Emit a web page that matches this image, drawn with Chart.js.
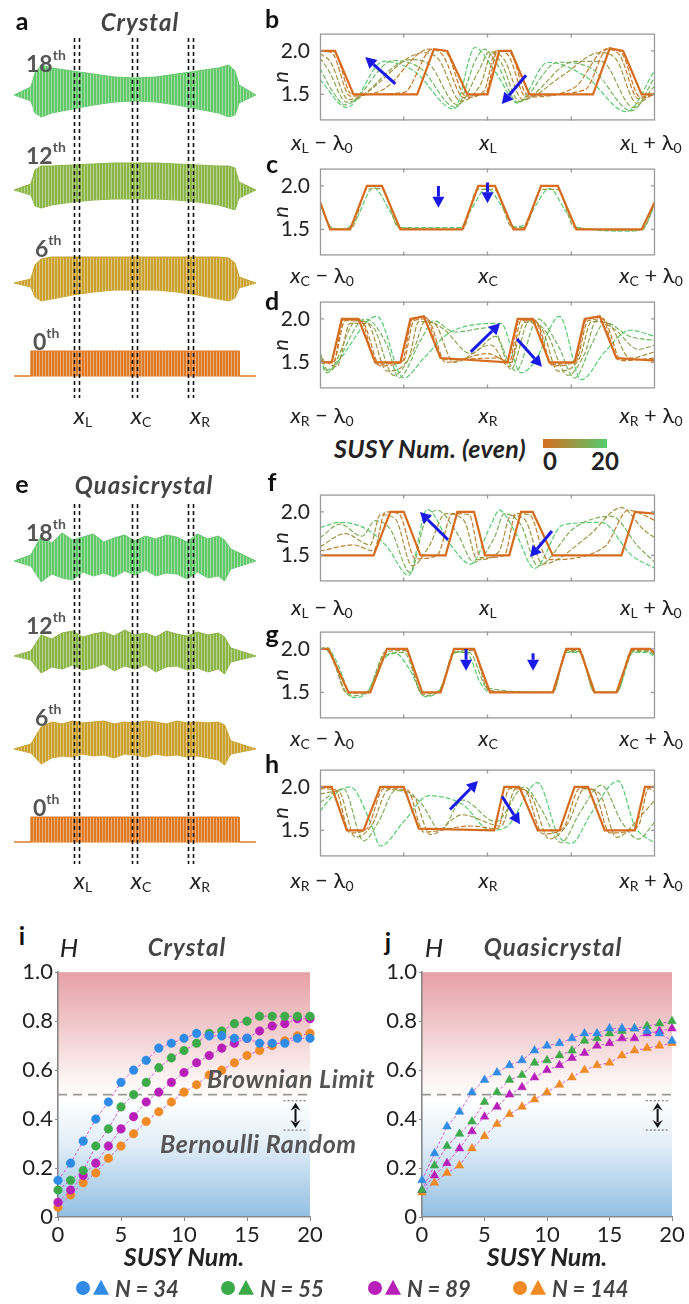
<!DOCTYPE html>
<html>
<head>
<meta charset="utf-8">
<title>SUSY crystal / quasicrystal</title>
<script src="https://cdn.jsdelivr.net/npm/chart.js"></script>
<style>
  body { margin:0; background:#fff; font-family: Lato, "Open Sans", sans-serif; }
  #fig { position:relative; width:689px; height:1304px; overflow:hidden; }
  canvas { position:absolute; }
  .t { position:absolute; white-space:nowrap; line-height:1; transform:translate(-50%,-50%); color:#222; }
  .l { transform:translate(0,-50%); }
  .lt { font-weight:bold; font-size:25px; color:#111; }
  .ttl { font-weight:bold; font-style:italic; font-size:24px; letter-spacing:1px; color:#444; }
  .ord { font-weight:bold; font-size:23px; color:#555; }
  .ord sup { font-size:14px; position:relative; top:-3px; }
  .xl { font-size:22px; color:#222; }
  .xl i { font-style:italic; }
  .xl sub { font-size:14px; position:relative; top:3px; vertical-align:baseline; }
  .note { font-weight:bold; font-style:italic; font-size:25px; letter-spacing:0.6px; color:#555; }
  .leg { font-weight:bold; font-style:italic; font-size:22px; color:#444; }
  .dot { position:absolute; width:14px; height:14px; border-radius:50%; transform:translate(-50%,-50%); }
  .tri { position:absolute; width:0; height:0; border-left:8px solid transparent; border-right:8px solid transparent; transform:translate(-50%,-55%); }
</style>
</head>
<body>
<div id="fig">
  <canvas id="wa" width="250" height="380" style="left:10px;top:30px"></canvas>
  <canvas id="we" width="250" height="380" style="left:10px;top:496px"></canvas>
  <canvas id="nb" width="424" height="116" style="left:265px;top:19px"></canvas>
  <canvas id="nc" width="424" height="116" style="left:265px;top:154px"></canvas>
  <canvas id="nd" width="424" height="116" style="left:265px;top:287px"></canvas>
  <canvas id="nf" width="424" height="116" style="left:265px;top:480px"></canvas>
  <canvas id="ng" width="424" height="116" style="left:265px;top:617px"></canvas>
  <canvas id="nh" width="424" height="116" style="left:265px;top:755px"></canvas>
  <canvas id="hi" width="330" height="320" style="left:0px;top:957px"></canvas>
  <canvas id="hj" width="325" height="320" style="left:364px;top:957px"></canvas>

  <div class="t lt" style="left:22px;top:20px">a</div>
  <div class="t ttl" style="left:140px;top:22px">Crystal</div>
  <div class="t lt" style="left:272px;top:18px">b</div>
  <div class="t lt" style="left:272px;top:163px">c</div>
  <div class="t lt" style="left:272px;top:300px">d</div>
  <div class="t lt" style="left:22px;top:483px">e</div>
  <div class="t ttl" style="left:144px;top:485px">Quasicrystal</div>
  <div class="t lt" style="left:272px;top:481px">f</div>
  <div class="t lt" style="left:272px;top:633px">g</div>
  <div class="t lt" style="left:272px;top:763px">h</div>
  <div class="t lt" style="left:22px;top:935px">i</div>
  <div class="t lt" style="left:388px;top:941px">j</div>

  <div class="t l ord" style="left:26px;top:63px">18<sup>th</sup></div>
  <div class="t l ord" style="left:26px;top:155px">12<sup>th</sup></div>
  <div class="t l ord" style="left:35px;top:248px">6<sup>th</sup></div>
  <div class="t l ord" style="left:33px;top:341px">0<sup>th</sup></div>
  <div class="t l ord" style="left:26px;top:532px">18<sup>th</sup></div>
  <div class="t l ord" style="left:26px;top:625px">12<sup>th</sup></div>
  <div class="t l ord" style="left:35px;top:717px">6<sup>th</sup></div>
  <div class="t l ord" style="left:33px;top:807px">0<sup>th</sup></div>

  <div class="t xl" style="left:83px;top:415px;font-size:24px"><i>x</i><sub>L</sub></div>
  <div class="t xl" style="left:141px;top:415px;font-size:24px"><i>x</i><sub>C</sub></div>
  <div class="t xl" style="left:200px;top:415px;font-size:24px"><i>x</i><sub>R</sub></div>
  <div class="t xl" style="left:83px;top:880px;font-size:24px"><i>x</i><sub>L</sub></div>
  <div class="t xl" style="left:141px;top:880px;font-size:24px"><i>x</i><sub>C</sub></div>
  <div class="t xl" style="left:200px;top:880px;font-size:24px"><i>x</i><sub>R</sub></div>

  <div id="nlabels"></div>

  <div class="t ttl" style="left:430px;top:448px;font-size:25px;letter-spacing:0.3px;color:#222">SUSY Num. (even)</div>
  <div style="position:absolute;left:543px;top:439px;width:64px;height:9px;background:linear-gradient(to right,#d66c1e,#56cc70)"></div>
  <div class="t xl" style="left:550px;top:461px;font-weight:bold;font-size:24px">0</div>
  <div class="t xl" style="left:605px;top:461px;font-weight:bold;font-size:24px">20</div>

  <div class="t" style="left:69px;top:947px;font-style:italic;font-size:26px;color:#222">H</div>
  <div class="t ttl" style="left:187px;top:947px">Crystal</div>
  <div class="t" style="left:434px;top:947px;font-style:italic;font-size:26px;color:#222">H</div>
  <div class="t ttl" style="left:553px;top:947px">Quasicrystal</div>
  <div class="t l note" style="left:207px;top:1078px">Brownian Limit</div>
  <div class="t l note" style="left:160px;top:1143px">Bernoulli Random</div>

  <div id="legend"></div>
</div>

<script>
// ---------------- data ----------------
// panel a / e : envelopes of the field, px above (+) / below (-) the rest line
const crysX = [0, 0.02, 0.05, 0.1, 0.2, 0.3, 0.4, 0.5, 0.6, 0.7, 0.8, 0.9, 0.95, 0.98, 1];
const crys18Up = [8, 22, 30, 27, 24, 21, 18, 17, 18, 21, 24, 27, 30, 24, 10];
const crys18Dn = [-6, -18, -22, -18, -14, -10, -7, -6, -7, -10, -14, -18, -22, -20, -8];
const crys12Up = [6, 20, 24, 24, 25, 26, 27, 27, 27, 26, 25, 24, 24, 22, 8];
const crys12Dn = [-5, -16, -18, -15, -12, -10, -9, -9, -9, -10, -12, -15, -18, -20, -8];
const crys6Up = [4, 18, 24, 26, 26, 26, 26, 26, 26, 26, 26, 26, 25, 20, 6];
const crys6Dn = [-4, -14, -18, -16, -12, -9, -7, -7, -7, -9, -12, -16, -18, -15, -5];

const quasiX = [0, 0.05, 0.1, 0.15, 0.2, 0.25, 0.3, 0.35, 0.4, 0.45, 0.5, 0.55, 0.6, 0.65, 0.7, 0.75, 0.8, 0.85, 0.9, 0.93, 0.96];
const quasi18Up = [6, 25, 18, 28, 21, 24, 27, 19, 23, 26, 20, 25, 22, 26, 24, 19, 27, 22, 25, 21, 12];
const quasi18Dn = [-5, -21, -13, -17, -19, -11, -15, -12, -16, -10, -14, -9, -15, -12, -13, -18, -11, -17, -15, -20, -8];
const quasi12Up = [5, 21, 17, 23, 25, 19, 22, 24, 20, 26, 21, 23, 19, 25, 22, 20, 24, 21, 23, 19, 8];
const quasi12Dn = [-4, -17, -11, -13, -9, -14, -12, -8, -15, -10, -13, -9, -16, -11, -10, -14, -12, -16, -13, -18, -6];
const quasi6Up = [5, 22, 27, 25, 28, 26, 27, 28, 25, 27, 26, 28, 27, 25, 28, 26, 27, 26, 27, 24, 8];
const quasi6Dn = [-4, -15, -9, -7, -8, -5, -7, -6, -9, -5, -6, -8, -5, -7, -6, -8, -7, -9, -11, -16, -5];

const zeroX = [0, 0, 1, 1];
const zeroUp = [0, 25, 25, 0];
const zeroDn = [0, 0, 0, 0];

const guideX = [0.207, 0.231, 0.486, 0.51, 0.754, 0.778];   // x_L, x_C, x_R double dashes

// panels b-d, f-h : refractive index n over x - lambda0 .. x + lambda0  ([x, n] pairs)
const bSteps = [0, 2, 4, 8, 12, 16, 20];
const bCurves = [
  [[-1,2.0],[-0.91,2.0],[-0.8,1.5],[-0.42,1.5],[-0.32,2.02],[-0.24,2.0],[-0.12,1.5],[0,1.5],[0.07,2.0],[0.14,2.0],[0.25,1.5],[0.63,1.5],[0.73,2.03],[0.81,2.0],[0.92,1.5],[1,1.5]],
  [[-1,2.0],[-0.92,2.0],[-0.81,1.5],[-0.5,1.52],[-0.33,2.02],[-0.25,1.99],[-0.13,1.48],[-0.01,1.52],[0.06,2.0],[0.13,1.99],[0.24,1.49],[0.58,1.55],[0.72,2.03],[0.8,1.98],[0.91,1.47],[1,1.5]],
  [[-1,2.0],[-0.93,1.98],[-0.82,1.48],[-0.62,1.56],[-0.35,2.02],[-0.27,1.96],[-0.14,1.46],[-0.02,1.54],[0.05,2.0],[0.12,1.96],[0.23,1.47],[0.52,1.58],[0.71,2.02],[0.79,1.95],[0.9,1.45],[1,1.5]],
  [[-1,1.97],[-0.94,1.88],[-0.83,1.44],[-0.38,1.98],[-0.29,1.9],[-0.16,1.42],[-0.04,1.62],[0.03,1.99],[0.1,1.9],[0.21,1.44],[0.45,1.72],[0.67,1.98],[0.77,1.9],[0.89,1.4],[1,1.52]],
  [[-1,1.92],[-0.95,1.78],[-0.84,1.41],[-0.46,1.9],[-0.35,1.85],[-0.18,1.38],[-0.05,1.78],[0.01,1.99],[0.08,1.87],[0.19,1.42],[0.52,1.88],[0.68,1.88],[0.87,1.35],[1,1.6]],
  [[-1,1.8],[-0.93,1.55],[-0.85,1.38],[-0.56,1.89],[-0.4,1.8],[-0.19,1.35],[-0.07,1.9],[-0.02,2.02],[0.06,1.84],[0.18,1.41],[0.42,1.87],[0.62,1.8],[0.86,1.31],[1,1.7]],
  [[-1,1.67],[-0.84,1.35],[-0.62,1.88],[-0.44,1.77],[-0.2,1.33],[-0.075,2.04],[0.05,1.75],[0.18,1.4],[0.36,1.87],[0.59,1.7],[0.83,1.3],[1,1.78]]
];
const cSteps = [0, 10, 20];
const cCurves = [
  [[-1,1.82],[-0.94,1.5],[-0.82,1.5],[-0.72,2.0],[-0.63,2.0],[-0.52,1.5],[-0.15,1.5],[-0.055,2.0],[0.045,2.0],[0.155,1.5],[0.22,1.5],[0.32,2.0],[0.42,2.0],[0.53,1.5],[0.92,1.5],[1,1.82]],
  [[-1,1.8],[-0.95,1.56],[-0.9,1.5],[-0.81,1.52],[-0.72,1.96],[-0.63,1.97],[-0.53,1.52],[-0.15,1.5],[-0.06,1.96],[0.04,1.96],[0.15,1.52],[0.22,1.52],[0.32,1.96],[0.42,1.96],[0.52,1.52],[0.92,1.49],[1,1.8]],
  [[-1,1.78],[-0.93,1.52],[-0.86,1.5],[-0.79,1.6],[-0.68,1.98],[-0.58,1.7],[-0.52,1.52],[-0.16,1.52],[-0.1,1.72],[-0.005,1.97],[0.1,1.72],[0.16,1.53],[0.22,1.55],[0.28,1.75],[0.37,1.97],[0.47,1.7],[0.54,1.52],[0.85,1.48],[0.93,1.52],[1,1.78]]
];
const dSteps = [0, 2, 4, 8, 12, 16, 20];
const dCurves = [
  [[-1,1.5],[-0.93,1.5],[-0.87,2.0],[-0.77,2.0],[-0.67,1.5],[-0.52,1.5],[-0.46,2.0],[-0.38,2.03],[-0.28,1.55],[0.12,1.5],[0.18,2.0],[0.27,2.0],[0.37,1.5],[0.52,1.5],[0.58,2.0],[0.67,2.03],[0.77,1.55],[1,1.52]],
  [[-1,1.51],[-0.92,1.5],[-0.86,1.99],[-0.76,1.99],[-0.66,1.48],[-0.51,1.51],[-0.45,1.99],[-0.37,2.02],[-0.27,1.53],[0.06,1.55],[0.13,1.5],[0.19,1.99],[0.28,1.99],[0.38,1.48],[0.52,1.51],[0.59,1.99],[0.68,2.02],[0.78,1.53],[1,1.53]],
  [[-1,1.52],[-0.92,1.5],[-0.85,1.98],[-0.75,1.97],[-0.64,1.46],[-0.5,1.52],[-0.44,1.98],[-0.36,2.0],[-0.25,1.5],[0,1.6],[0.14,1.5],[0.2,1.98],[0.29,1.97],[0.39,1.46],[0.53,1.52],[0.6,1.98],[0.69,2.0],[0.8,1.52],[1,1.55]],
  [[-1,1.56],[-0.9,1.45],[-0.82,1.95],[-0.72,1.95],[-0.6,1.4],[-0.47,1.55],[-0.41,1.97],[-0.32,1.95],[-0.2,1.5],[0.02,1.7],[0.13,1.45],[0.22,1.96],[0.32,1.9],[0.42,1.4],[0.55,1.55],[0.62,1.97],[0.72,1.95],[0.85,1.55],[1,1.62]],
  [[-1,1.6],[-0.95,1.4],[-0.78,1.98],[-0.68,1.9],[-0.56,1.35],[-0.44,1.65],[-0.37,1.98],[-0.26,1.88],[-0.1,1.6],[0.05,1.8],[0.14,1.42],[0.25,1.98],[0.35,1.85],[0.48,1.35],[0.58,1.6],[0.65,1.98],[0.76,1.88],[0.9,1.65],[1,1.7]],
  [[-1,1.62],[-0.96,1.38],[-0.73,2.0],[-0.6,1.7],[-0.53,1.32],[-0.4,1.75],[-0.32,1.98],[-0.2,1.85],[0.02,1.9],[0.17,1.4],[0.3,2.0],[0.42,1.7],[0.52,1.32],[0.62,1.7],[0.7,1.96],[0.85,1.8],[1,1.75]],
  [[-1,1.62],[-0.97,1.4],[-0.9,1.5],[-0.66,2.03],[-0.5,1.32],[-0.38,1.55],[-0.22,1.85],[0.08,1.95],[0.2,1.38],[0.28,1.5],[0.43,2.03],[0.56,1.3],[0.7,1.62],[0.85,1.87],[1,1.8]]
];
const fSteps = [0, 4, 8, 14, 20];
const fCurves = [
  [[-1,1.5],[-0.68,1.5],[-0.58,2.0],[-0.5,2.0],[-0.4,1.5],[-0.25,1.5],[-0.18,2.0],[-0.08,2.0],[-0.015,1.5],[0.13,1.5],[0.2,2.0],[0.27,2.0],[0.39,1.5],[0.8,1.5],[0.88,2.0],[1,1.98]],
  [[-1,1.55],[-0.8,1.62],[-0.68,1.55],[-0.61,2.0],[-0.53,1.98],[-0.43,1.46],[-0.3,1.5],[-0.21,1.98],[-0.11,1.97],[-0.04,1.47],[0.1,1.5],[0.17,1.98],[0.25,1.97],[0.36,1.45],[0.7,1.6],[0.84,2.02],[0.95,1.95],[1,1.9]],
  [[-1,1.6],[-0.85,1.75],[-0.7,1.62],[-0.64,1.97],[-0.55,1.92],[-0.45,1.38],[-0.35,1.6],[-0.25,1.98],[-0.14,1.9],[-0.06,1.45],[0.07,1.55],[0.14,1.96],[0.22,1.92],[0.33,1.4],[0.6,1.72],[0.8,2.05],[0.93,1.8],[1,1.7]],
  [[-1,1.7],[-0.88,1.86],[-0.75,1.72],[-0.67,1.9],[-0.58,1.8],[-0.46,1.3],[-0.38,1.85],[-0.3,2.02],[-0.18,1.75],[-0.08,1.42],[0.04,1.7],[0.1,1.98],[0.2,1.85],[0.3,1.38],[0.52,1.82],[0.74,1.95],[0.9,1.6],[1,1.42]],
  [[-1,1.82],[-0.88,1.88],[-0.72,1.8],[-0.6,1.6],[-0.47,1.27],[-0.36,2.03],[-0.22,1.62],[-0.1,1.4],[0.02,1.85],[0.07,2.02],[0.17,1.75],[0.28,1.35],[0.45,1.85],[0.68,1.88],[0.86,1.5],[1,1.35]]
];
const gSteps = [0, 8, 14, 20];
const gCurves = [
  [[-1,2.0],[-0.95,2.0],[-0.83,1.5],[-0.7,1.5],[-0.6,2.0],[-0.48,2.0],[-0.39,1.5],[-0.28,1.5],[-0.2,2.0],[-0.08,2.0],[0.015,1.5],[0.39,1.5],[0.47,2.0],[0.55,2.0],[0.64,1.5],[0.77,1.5],[0.86,2.0],[0.97,2.0],[1,1.95]],
  [[-1,2.0],[-0.95,1.99],[-0.84,1.49],[-0.71,1.5],[-0.61,1.97],[-0.49,1.98],[-0.39,1.48],[-0.28,1.52],[-0.2,1.97],[-0.09,1.98],[0.01,1.52],[0.39,1.5],[0.47,1.98],[0.55,1.98],[0.64,1.5],[0.77,1.5],[0.86,1.98],[0.97,1.98],[1,1.93]],
  [[-1,2.01],[-0.95,1.97],[-0.82,1.46],[-0.72,1.5],[-0.62,1.92],[-0.5,1.96],[-0.38,1.46],[-0.28,1.54],[-0.2,1.96],[-0.11,1.96],[0.0,1.55],[0.39,1.5],[0.47,1.97],[0.55,1.97],[0.64,1.5],[0.77,1.5],[0.86,1.97],[0.97,1.97],[1,1.92]],
  [[-1,2.0],[-0.96,2.02],[-0.9,1.85],[-0.8,1.44],[-0.72,1.5],[-0.62,1.88],[-0.55,1.95],[-0.47,1.78],[-0.37,1.45],[-0.28,1.55],[-0.2,1.95],[-0.13,1.97],[-0.04,1.6],[0.02,1.5],[0.39,1.5],[0.47,1.96],[0.55,1.96],[0.64,1.5],[0.77,1.5],[0.87,1.96],[0.96,1.96],[1,1.9]]
];
const hSteps = [0, 4, 8, 14, 20];
const hCurves = [
  [[-1,2.0],[-0.93,2.0],[-0.84,1.5],[-0.74,1.5],[-0.64,2.0],[-0.5,2.0],[-0.41,1.52],[0.04,1.5],[0.1,2.0],[0.19,2.0],[0.3,1.5],[0.43,1.5],[0.52,2.0],[0.6,2.0],[0.7,1.5],[0.88,1.5],[0.94,2.0],[1,2.0]],
  [[-1,1.98],[-0.91,1.97],[-0.82,1.47],[-0.72,1.52],[-0.62,1.98],[-0.48,1.97],[-0.38,1.48],[-0.1,1.55],[0.06,1.52],[0.13,1.98],[0.22,1.97],[0.33,1.46],[0.45,1.52],[0.55,1.98],[0.63,1.97],[0.73,1.47],[0.9,1.55],[0.96,1.98],[1,1.95]],
  [[-1,1.92],[-0.89,1.95],[-0.79,1.42],[-0.69,1.56],[-0.59,1.97],[-0.45,1.92],[-0.34,1.45],[-0.15,1.68],[0.08,1.55],[0.17,1.98],[0.26,1.9],[0.37,1.4],[0.48,1.58],[0.58,1.98],[0.67,1.92],[0.77,1.42],[0.93,1.7],[1,1.85]],
  [[-1,1.82],[-0.86,1.98],[-0.74,1.38],[-0.65,1.6],[-0.55,1.96],[-0.4,1.82],[-0.28,1.5],[-0.15,1.85],[0.05,1.6],[0.22,2.0],[0.32,1.75],[0.44,1.36],[0.55,1.7],[0.68,2.02],[0.8,1.6],[0.9,1.4],[1,1.6]],
  [[-1,1.72],[-0.92,1.9],[-0.82,2.0],[-0.7,1.6],[-0.64,1.32],[-0.5,1.6],[-0.35,1.9],[-0.15,1.8],[0.02,1.5],[0.12,1.55],[0.3,2.05],[0.42,1.45],[0.5,1.35],[0.62,1.7],[0.78,2.07],[0.88,1.55],[1,1.35]]
];
const nTicks = [1.5, 2.0];
const nQuarter = [-0.5, 0, 0.5];

// panels i / j : H versus SUSY number
const susy = [0,1,2,3,4,5,6,7,8,9,10,11,12,13,14,15,16,17,18,19,20];
const crys34  = [0.15,0.22,0.31,0.40,0.47,0.55,0.60,0.64,0.69,0.71,0.73,0.75,0.74,0.74,0.73,0.73,0.71,0.71,0.71,0.73,0.73];
const crys55  = [0.11,0.15,0.19,0.29,0.36,0.45,0.50,0.55,0.61,0.65,0.68,0.71,0.75,0.76,0.79,0.80,0.82,0.82,0.82,0.82,0.82];
const crys89  = [0.06,0.11,0.17,0.22,0.29,0.36,0.41,0.47,0.51,0.55,0.59,0.63,0.66,0.69,0.71,0.73,0.76,0.78,0.79,0.81,0.81];
const crys144 = [0.04,0.09,0.14,0.18,0.24,0.29,0.34,0.39,0.43,0.47,0.51,0.54,0.58,0.60,0.63,0.66,0.68,0.70,0.72,0.74,0.75];
const quasi34  = [0.15,0.26,0.37,0.43,0.51,0.56,0.59,0.62,0.64,0.68,0.70,0.71,0.73,0.75,0.75,0.77,0.77,0.77,0.76,0.75,0.72];
const quasi55  = [0.11,0.21,0.29,0.34,0.39,0.47,0.51,0.56,0.58,0.63,0.64,0.66,0.68,0.72,0.73,0.75,0.76,0.77,0.78,0.79,0.80];
const quasi89  = [0.11,0.17,0.22,0.28,0.35,0.41,0.45,0.50,0.53,0.57,0.60,0.62,0.65,0.67,0.70,0.71,0.73,0.73,0.75,0.76,0.77];
const quasi144 = [0.10,0.14,0.18,0.21,0.28,0.33,0.38,0.42,0.45,0.48,0.51,0.54,0.57,0.60,0.62,0.63,0.66,0.68,0.69,0.70,0.71];
const sizes = ['34', '55', '89', '144'];
const brownLimit = 0.5;
const bernoulliBand = [0.355, 0.475];

// ---------------- styling ----------------
const rowColor = ['#e07a22', '#c9a12c', '#8bb547', '#62c96b'];   // 0th 6th 12th 18th
const rowBase = [0, 93, 186, 281];
const nColor = ['#2f8be6', '#3daa4a', '#b81fb8', '#f08a24'];
const linkColor = '#d65ad6';
const FONT = 'Lato, "Open Sans", sans-serif';

function susyColor(s) {
  const a = [214, 108, 30], b = [86, 204, 112], t = s / 20;
  return 'rgb(' + a.map((v, i) => Math.round(v + (b[i] - v) * t)).join(',') + ')';
}

function stripes(col) {
  const p = document.createElement('canvas');
  p.width = 3; p.height = 4;
  const c = p.getContext('2d');
  c.fillStyle = col; c.fillRect(0, 0, 3, 4);
  c.fillStyle = 'rgba(255,255,255,0.4)'; c.fillRect(2, 0, 1, 4);
  return c.createPattern(p, 'repeat');
}

// black double dashed guides through panels a and e
const guidePlugin = {
  id: 'guides',
  afterDatasetsDraw(chart) {
    const {ctx, scales: {x, y}} = chart;
    ctx.save();
    ctx.strokeStyle = '#111'; ctx.lineWidth = 1.6; ctx.setLineDash([4, 3]);
    guideX.forEach(g => {
      const px = Math.round(x.getPixelForValue(g)) + 0.5;
      ctx.beginPath();
      ctx.moveTo(px, y.getPixelForValue(338));
      ctx.lineTo(px, y.getPixelForValue(-22));
      ctx.stroke();
    });
    ctx.restore();
  }
};

function wavePanel(id, rows) {
  const ds = [];
  rows.forEach(r => {
    const base = rowBase[r.row];
    const up = [{x: -0.08, y: base}], dn = [{x: -0.08, y: base}];
    r.x.forEach((v, i) => { up.push({x: v, y: base + r.up[i]}); dn.push({x: v, y: base + r.dn[i]}); });
    up.push({x: 1.08, y: base}); dn.push({x: 1.08, y: base});
    const col = rowColor[r.row];
    ds.push({data: up, borderColor: col, borderWidth: 1, pointRadius: 0, fill: '+1', backgroundColor: stripes(col)});
    ds.push({data: dn, borderColor: col, borderWidth: 1, pointRadius: 0, fill: false});
  });
  new Chart(document.getElementById(id), {
    type: 'line',
    data: {datasets: ds},
    options: {
      responsive: false, animation: false,
      layout: {padding: 0},
      plugins: {legend: {display: false}, tooltip: {enabled: false}},
      scales: {
        x: {type: 'linear', min: -0.1, max: 1.1, display: false},
        y: {min: -34, max: 346, display: false}
      }
    },
    plugins: [guidePlugin]
  });
}

wavePanel('wa', [
  {row: 3, x: crysX, up: crys18Up, dn: crys18Dn},
  {row: 2, x: crysX, up: crys12Up, dn: crys12Dn},
  {row: 1, x: crysX, up: crys6Up, dn: crys6Dn},
  {row: 0, x: zeroX, up: zeroUp, dn: zeroDn}
]);
wavePanel('we', [
  {row: 3, x: quasiX, up: quasi18Up, dn: quasi18Dn},
  {row: 2, x: quasiX, up: quasi12Up, dn: quasi12Dn},
  {row: 1, x: quasiX, up: quasi6Up, dn: quasi6Dn},
  {row: 0, x: zeroX, up: zeroUp, dn: zeroDn}
]);

// ---------- n(x) panels ----------
const framePlugin = {
  id: 'frame',
  afterDatasetsDraw(chart) {
    const {ctx, chartArea: a, scales: {x, y}} = chart;
    ctx.save();
    ctx.strokeStyle = '#9a9a9a'; ctx.lineWidth = 1.3;
    ctx.strokeRect(a.left + 0.5, a.top + 0.5, a.right - a.left - 1, a.bottom - a.top - 1);
    ctx.beginPath();
    nQuarter.forEach(v => {
      const px = x.getPixelForValue(v);
      ctx.moveTo(px, a.top); ctx.lineTo(px, a.top + 4);
      ctx.moveTo(px, a.bottom); ctx.lineTo(px, a.bottom - 4);
    });
    nTicks.forEach(v => {
      const py = y.getPixelForValue(v);
      ctx.moveTo(a.left, py); ctx.lineTo(a.left + 4, py);
      ctx.moveTo(a.right, py); ctx.lineTo(a.right - 4, py);
    });
    ctx.stroke();
    ctx.restore();
  }
};

function arrowPlugin(list) {
  return {
    id: 'arrows',
    afterDatasetsDraw(chart) {
      const {ctx, scales: {x, y}} = chart;
      ctx.save();
      ctx.strokeStyle = '#1a1ae6'; ctx.fillStyle = '#1a1ae6'; ctx.lineWidth = 3;
      list.forEach(([x0, y0, x1, y1]) => {
        const ax = x.getPixelForValue(x0), ay = y.getPixelForValue(y0);
        const bx = x.getPixelForValue(x1), by = y.getPixelForValue(y1);
        const ang = Math.atan2(by - ay, bx - ax), hl = 11, hw = 6;
        const sx = bx - Math.cos(ang) * hl, sy = by - Math.sin(ang) * hl;
        ctx.beginPath(); ctx.moveTo(ax, ay); ctx.lineTo(sx, sy); ctx.stroke();
        ctx.beginPath();
        ctx.moveTo(bx, by);
        ctx.lineTo(sx + Math.sin(ang) * hw, sy - Math.cos(ang) * hw);
        ctx.lineTo(sx - Math.sin(ang) * hw, sy + Math.cos(ang) * hw);
        ctx.closePath(); ctx.fill();
      });
      ctx.restore();
    }
  };
}

function nPanel(id, steps, curves, arrows) {
  const datasets = curves.map((pts, k) => {
    const s = steps[k];
    return {
      data: pts.map(p => ({x: p[0], y: p[1]})),
      borderColor: susyColor(s),
      borderWidth: s === 0 ? 2.2 : 1.2,
      borderDash: s === 0 ? [] : [5, 2],
      cubicInterpolationMode: s === 0 ? 'default' : 'monotone',
      tension: 0, pointRadius: 0, fill: false
    };
  });
  new Chart(document.getElementById(id), {
    type: 'line',
    data: {datasets},
    options: {
      responsive: false, animation: false,
      layout: {padding: {top: 8, bottom: 8, right: 34, left: 0}},
      plugins: {legend: {display: false}, tooltip: {enabled: false}},
      scales: {
        x: {type: 'linear', min: -1, max: 1, display: false},
        y: {
          min: 1.2, max: 2.2,
          afterFit: s => { s.width = 55; },
          afterBuildTicks: s => { s.ticks = nTicks.map(v => ({value: v})); },
          ticks: {callback: v => v.toFixed(1), font: {size: 21, family: FONT}, color: '#222', padding: 2},
          grid: {display: false}, border: {display: false},
          title: {display: true, text: 'n', font: {size: 22, style: 'italic', family: FONT}, color: '#222', padding: {top: 3, bottom: 0}}
        }
      }
    },
    plugins: [framePlugin, arrowPlugin(arrows)]
  });
}

nPanel('nb', bSteps, bCurves, [[-0.55, 1.62, -0.73, 1.93], [0.23, 1.72, 0.085, 1.39]]);
nPanel('nc', cSteps, cCurves, [[-0.293, 2.0, -0.293, 1.75], [0, 2.04, 0, 1.8]]);
nPanel('nd', dSteps, dCurves, [[-0.1, 1.62, 0.075, 1.95], [0.176, 1.77, 0.325, 1.45]]);
nPanel('nf', fSteps, fCurves, [[-0.236, 1.68, -0.403, 2.0], [0.385, 1.78, 0.254, 1.48]]);
nPanel('ng', gSteps, gCurves, [[-0.128, 2.0, -0.128, 1.75], [0.272, 1.95, 0.272, 1.75]]);
nPanel('nh', hSteps, hCurves, [[-0.224, 1.74, -0.057, 2.07], [0.087, 1.89, 0.194, 1.57]]);

// x labels under the n panels
const nLabelRows = [['L', 142], ['C', 275], ['R', 415], ['L', 607], ['C', 738], ['R', 880]];
const nl = document.getElementById('nlabels');
nLabelRows.forEach(([s, top]) => {
  nl.insertAdjacentHTML('beforeend',
    `<div class="t xl" style="left:322px;top:${top}px"><i>x</i><sub>${s}</sub> − λ<sub>0</sub></div>` +
    `<div class="t xl" style="left:488px;top:${top}px"><i>x</i><sub>${s}</sub></div>` +
    `<div class="t xl" style="left:651px;top:${top}px"><i>x</i><sub>${s}</sub> + λ<sub>0</sub></div>`);
});

// ---------- H panels ----------
const bgPlugin = {
  id: 'bg',
  beforeDraw(chart) {
    const {ctx, chartArea: a} = chart;
    const g = ctx.createLinearGradient(0, a.top, 0, a.bottom);
    g.addColorStop(0, '#e6a0a6');
    g.addColorStop(0.25, '#f2cfd1');
    g.addColorStop(0.45, '#fdf6f6');
    g.addColorStop(0.52, '#ffffff');
    g.addColorStop(0.7, '#e3eef8');
    g.addColorStop(1, '#92bfe2');
    ctx.save(); ctx.fillStyle = g;
    ctx.fillRect(a.left, a.top, a.right - a.left, a.bottom - a.top);
    ctx.restore();
  }
};

const bandArrowPlugin = {
  id: 'bandArrow',
  afterDatasetsDraw(chart) {
    const {ctx, scales: {x, y}} = chart;
    const px = x.getPixelForValue(18.85);
    const y0 = y.getPixelForValue(bernoulliBand[1]) + 2, y1 = y.getPixelForValue(bernoulliBand[0]) - 2;
    ctx.save();
    ctx.strokeStyle = '#111'; ctx.fillStyle = '#111'; ctx.lineWidth = 2;
    ctx.beginPath(); ctx.moveTo(px, y0 + 6); ctx.lineTo(px, y1 - 6); ctx.stroke();
    [[y0, 1], [y1, -1]].forEach(([yy, d]) => {
      ctx.beginPath();
      ctx.moveTo(px, yy); ctx.lineTo(px - 5, yy + d * 8); ctx.lineTo(px, yy + d * 5); ctx.lineTo(px + 5, yy + d * 8);
      ctx.closePath(); ctx.fill();
    });
    ctx.restore();
  }
};

function hPanel(id, series, shape, padRight) {
  const datasets = series.map((s, k) => ({
    data: susy.map((v, i) => ({x: v, y: s[i]})),
    borderColor: linkColor, borderWidth: 1, borderDash: [3, 2],
    pointStyle: shape, pointRadius: shape === 'triangle' ? 5 : 4.3,
    pointBackgroundColor: nColor[k], pointBorderColor: nColor[k], pointBorderWidth: 0.5,
    fill: false, clip: false
  }));
  datasets.push({data: [{x: 0, y: brownLimit}, {x: 20, y: brownLimit}], borderColor: '#9a9a9a',
    borderWidth: 1.6, borderDash: [9, 6], pointRadius: 0, fill: false});
  bernoulliBand.forEach(v => datasets.push({data: [{x: 17.9, y: v}, {x: 19.8, y: v}], borderColor: '#777',
    borderWidth: 1.2, borderDash: [2, 2], pointRadius: 0, fill: false}));

  new Chart(document.getElementById(id), {
    type: 'line',
    data: {datasets},
    options: {
      responsive: false, animation: false,
      layout: {padding: {top: 10, bottom: 0, left: 0, right: padRight}},
      plugins: {legend: {display: false}, tooltip: {enabled: false}},
      scales: {
        x: {
          type: 'linear', min: 0, max: 20,
          afterFit: s => { s.height = 60; },
          ticks: {stepSize: 5, font: {size: 22, family: FONT}, color: '#222', padding: 1, maxRotation: 0},
          grid: {display: true, drawOnChartArea: false, tickLength: 4, color: '#888'},
          border: {color: '#888', width: 1.6},
          title: {display: true, text: 'SUSY Num.', font: {size: 25, weight: 'bold', style: 'italic', family: FONT}, color: '#222', padding: {top: 0, bottom: 4}}
        },
        y: {
          min: 0, max: 1,
          afterFit: s => { s.width = 58; },
          ticks: {stepSize: 0.2, callback: v => v === 0 ? '0' : v.toFixed(1), font: {size: 22, family: FONT}, color: '#222', padding: 2},
          grid: {display: true, drawOnChartArea: false, tickLength: 3, color: '#888'},
          border: {color: '#888', width: 1.6}
        }
      }
    },
    plugins: [bgPlugin, bandArrowPlugin]
  });
}

hPanel('hi', [crys34, crys55, crys89, crys144], 'circle', 20);
hPanel('hj', [quasi34, quasi55, quasi89, quasi144], 'triangle', 17);

// legend under i / j
const legX = [83, 228, 375, 520];
const lg = document.getElementById('legend');
sizes.forEach((n, k) => {
  const x = legX[k];
  lg.insertAdjacentHTML('beforeend',
    `<div class="dot" style="left:${x}px;top:1288px;background:${nColor[k]}"></div>` +
    `<div class="tri" style="left:${x + 18}px;top:1288px;border-bottom:15px solid ${nColor[k]}"></div>` +
    `<div class="t l leg" style="left:${x + 32}px;top:1289px">N = ${n}</div>`);
});
</script>
</body>
</html>
